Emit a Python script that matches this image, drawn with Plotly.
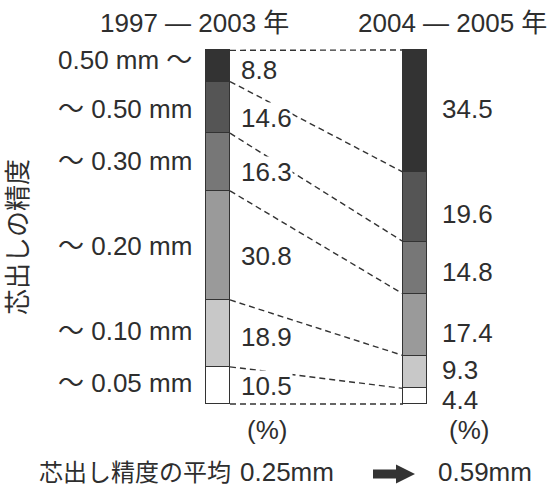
import plotly.graph_objects as go

# ---- data -------------------------------------------------------------
periods = ["1997 — 2003 年", "2004 — 2005 年"]
# accuracy classes, listed from the bottom of each bar to the top
classes = ["〜 0.05 mm", "〜 0.10 mm", "〜 0.20 mm", "〜 0.30 mm", "〜 0.50 mm", "0.50 mm 〜"]
share_1997_2003 = [10.5, 18.9, 30.8, 16.3, 14.6, 8.8]
share_2004_2005 = [4.4, 9.3, 17.4, 14.8, 19.6, 34.5]
axis_title = "芯出しの精度"
unit_label = "(%)"
mean_caption = "芯出し精度の平均"
mean_values = ["0.25mm", "0.59mm"]

# ---- styling / layout -------------------------------------------------
W, H = 559, 486
FONT = "Liberation Sans, Arial, Noto Sans CJK JP, sans-serif"
INK = "#2e2e2e"
FS = 26                      # main text size
FILLS = ["#ffffff", "#c8c8c8", "#9a9a9a", "#777777", "#555555", "#333333"]
BAR_X = [218, 415]          # bar centres (x axis runs in pixels)
BAR_W = 24
Y100_PX, Y0_PX = 50, 404    # vertical pixel rows of 100 % and 0 %
SCALE = (Y0_PX - Y100_PX) / 100.0


def ypx(p):
    """Convert a pixel row (from the top) into y-axis units."""
    return (Y0_PX - p) / SCALE


# extra downward nudges (px) for the value labels, bottom to top
LEFT_NUDGE = [1, 4, 11, 10, 11, 4]
RIGHT_NUDGE = [4, -2, 8, 4, 7, -2]
CLASS_NUDGE = [-2, -2, 1, -1, 2, -6]

fig = go.Figure()

for i, name in enumerate(classes):
    fig.add_trace(go.Bar(
        x=BAR_X,
        y=[share_1997_2003[i], share_2004_2005[i]],
        width=BAR_W,
        name=name,
        marker=dict(color=FILLS[i], line=dict(color="#333333", width=1.5)),
        hoverinfo="skip",
    ))


def cumulative(values):
    out = [0.0]
    for v in values:
        out.append(out[-1] + v)
    return out


cum_l = cumulative(share_1997_2003)
cum_r = cumulative(share_2004_2005)

shapes = []
# dashed connectors between matching boundaries of the two bars
for a, b in zip(cum_l, cum_r):
    shapes.append(dict(
        type="line", xref="x", yref="y",
        x0=BAR_X[0] + BAR_W / 2, y0=a,
        x1=BAR_X[1] - BAR_W / 2, y1=b,
        line=dict(color="#333333", width=1.4, dash="6px,4px"),
        layer="below",
    ))

# thick right arrow between the two averages
ay = 474
arrow = [(373, ay - 4.5), (396, ay - 4.5), (396, ay - 9.5), (415, ay),
         (396, ay + 9.5), (396, ay + 4.5), (373, ay + 4.5)]
path = "M " + " L ".join(f"{x},{ypx(y):.3f}" for x, y in arrow) + " Z"
shapes.append(dict(type="path", xref="x", yref="y", path=path,
                   fillcolor="#333333", line=dict(width=0)))

annotations = []


def text(x, y_px, s, anchor="center", size=FS, **kw):
    annotations.append(dict(
        x=x, y=ypx(y_px), xref="x", yref="y", text=s, showarrow=False,
        xanchor=anchor, yanchor="middle",
        font=dict(family=FONT, size=size, color=INK), **kw))


# value labels (white box so the dashed lines break around them)
for i in range(len(classes)):
    lc = cum_l[i] + share_1997_2003[i] / 2
    rc = cum_r[i] + share_2004_2005[i] / 2
    annotations.append(dict(
        x=240, y=lc, xref="x", yref="y", text=f"{share_1997_2003[i]:.1f}",
        showarrow=False, xanchor="left", yanchor="middle", yshift=-LEFT_NUDGE[i],
        bgcolor="white", borderpad=0,
        font=dict(family=FONT, size=FS, color=INK)))
    annotations.append(dict(
        x=441, y=rc, xref="x", yref="y", text=f"{share_2004_2005[i]:.1f}",
        showarrow=False, xanchor="left", yanchor="middle", yshift=-RIGHT_NUDGE[i],
        bgcolor="white", borderpad=0,
        font=dict(family=FONT, size=FS, color=INK)))
    # accuracy class names beside the left bar
    annotations.append(dict(
        x=194, y=lc, xref="x", yref="y", text=classes[i],
        showarrow=False, xanchor="right", yanchor="middle", yshift=-CLASS_NUDGE[i],
        font=dict(family=FONT, size=FS, color=INK)))

# period headers
text(194, 23, periods[0])
text(452, 23, periods[1])

# unit labels under the bars
text(267, 430, unit_label)
text(469, 430, unit_label)

# vertical axis title
annotations.append(dict(
    x=18, y=ypx(237), xref="x", yref="y", text=axis_title, showarrow=False,
    textangle=-90, xanchor="center", yanchor="middle",
    font=dict(family=FONT, size=26, color=INK)))

# average accuracy row
text(37, 472, mean_caption, anchor="left", size=24)
text(238, 472, mean_values[0], anchor="left")
text(436, 472, mean_values[1], anchor="left")

fig.update_layout(
    width=W, height=H,
    margin=dict(l=0, r=0, t=0, b=0),
    paper_bgcolor="white", plot_bgcolor="white",
    barmode="stack", bargap=0, showlegend=False,
    xaxis=dict(range=[0, W], visible=False, fixedrange=True),
    yaxis=dict(range=[ypx(H), ypx(0)], visible=False, fixedrange=True),
    shapes=shapes, annotations=annotations,
)

fig.write_html("out.html")
